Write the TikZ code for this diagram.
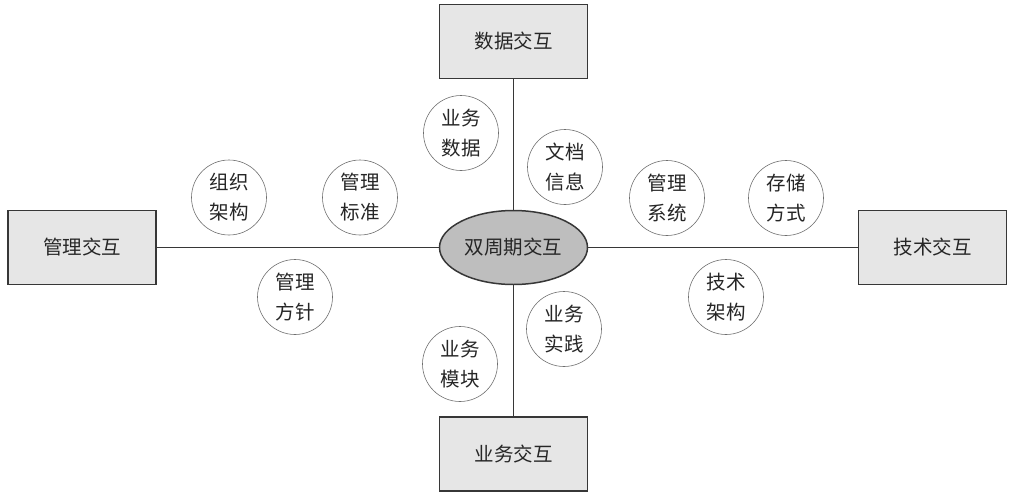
\documentclass[tikz,border=0pt]{standalone}
\usepackage{fontspec}
\newfontfamily\cjk{Noto Sans CJK SC}
\usetikzlibrary{shapes.geometric}
\definecolor{boxfill}{RGB}{230,230,230}
\definecolor{ellfill}{RGB}{190,190,190}
\definecolor{edge}{RGB}{55,55,55}
\definecolor{cedge}{RGB}{110,110,110}
\tikzset{
  x=1pt,y=-1pt,
  every node/.style={font=\cjk\fontsize{19.5}{30}\selectfont, text=black!85},
  mainbox/.style={draw=edge, line width=1.5pt, fill=boxfill, minimum width=148pt, minimum height=74pt, inner sep=0pt},
  hub/.style={ellipse, draw=edge, line width=1.5pt, fill=ellfill, minimum width=148pt, minimum height=74pt, inner sep=0pt},
  topic/.style={circle, draw=cedge, line width=0.6pt, fill=white, minimum size=75pt, inner sep=0pt, align=center},
  link/.style={draw=edge, line width=1.5pt}
}
\begin{document}
\begin{tikzpicture}
\useasboundingbox (0,0) rectangle (1015,498);
\node[hub] (c) at (513.5,247.5) {双周期交互};
\node[mainbox] (t) at (513.5,41.5) {数据交互};
\node[mainbox] (l) at (82,247.5) {管理交互};
\node[mainbox] (r) at (932.5,247.5) {技术交互};
\node[mainbox] (b) at (513.5,454) {业务交互};
\draw[link] (c) -- (t);
\draw[link] (c) -- (l);
\draw[link] (c) -- (r);
\draw[link] (c) -- (b);
\node[topic] (n1) at (461,133) {业务\\数据};
\node[topic] (n2) at (565,167) {文档\\信息};
\node[topic] (n3) at (229,197.5) {组织\\架构};
\node[topic] (n4) at (360,197.5) {管理\\标准};
\node[topic] (n5) at (667,198) {管理\\系统};
\node[topic] (n6) at (786,198) {存储\\方式};
\node[topic] (n7) at (295,297) {管理\\方针};
\node[topic] (n8) at (726,297) {技术\\架构};
\node[topic] (n9) at (564,329) {业务\\实践};
\node[topic] (n10) at (460,364) {业务\\模块};
\end{tikzpicture}
\end{document}
